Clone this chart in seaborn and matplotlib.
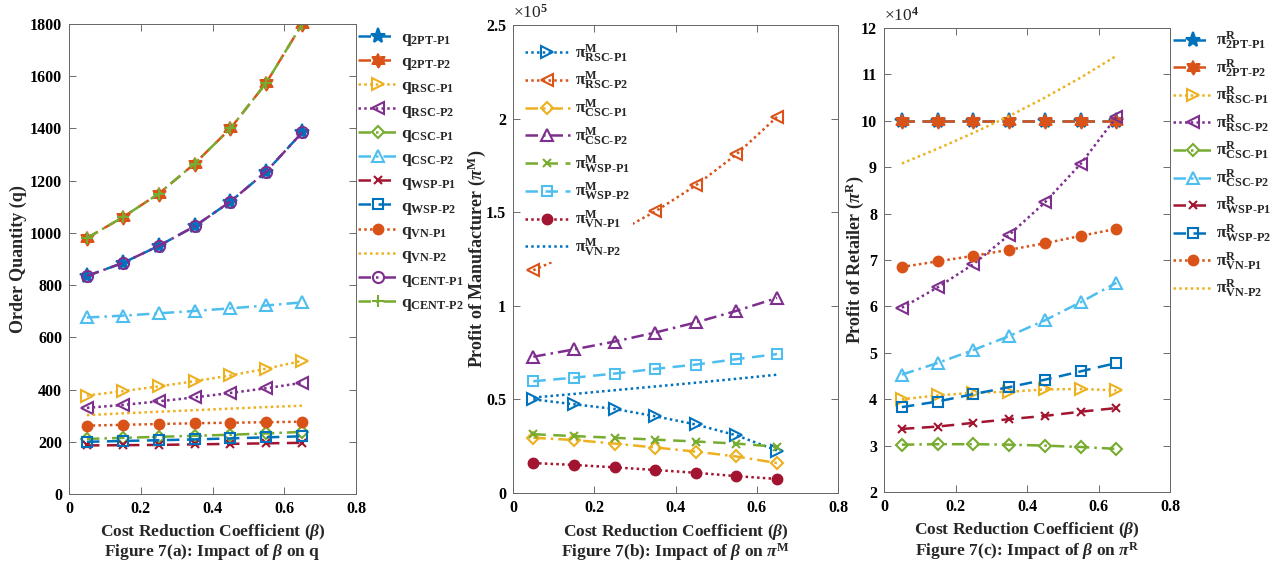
import numpy as np
import pandas as pd
import matplotlib
matplotlib.use("Agg")
import matplotlib.pyplot as plt
from matplotlib.ticker import FuncFormatter, MultipleLocator
import seaborn as sns

# ---------------- data ----------------
beta = [0.05, 0.15, 0.25, 0.35, 0.45, 0.55, 0.65]

# Figure 7(a): order quantity q
q_2pt_p1 = [835, 885, 950, 1025, 1120, 1235, 1385]
q_2pt_p2 = [980, 1060, 1150, 1265, 1400, 1575, 1800]
q_rsc_p1 = [377, 394, 412, 432, 454, 480, 510]
q_rsc_p2 = [330, 341, 355, 370, 387, 405, 426]
q_csc_p1 = [211, 215, 219, 223, 227, 232, 238]
q_csc_p2 = [676, 683, 692, 701, 711, 722, 734]
q_wsp_p1 = [186, 187, 188, 190, 192, 194, 196]
q_wsp_p2 = [200, 203, 206, 209, 213, 217, 221]
q_vn_p1 = [262, 265, 268, 271, 273, 275, 277]
q_vn_p2 = [302, 309, 315, 321, 327, 333, 338]
q_cent_p1 = [835, 885, 950, 1025, 1120, 1235, 1385]
q_cent_p2 = [980, 1060, 1150, 1265, 1400, 1575, 1800]

# Figure 7(b): manufacturer profit (x 10^5)
pm_rsc_p1 = [0.50, 0.474, 0.449, 0.41, 0.366, 0.308, 0.227]
pm_rsc_p2 = [1.19, 1.285, 1.385, 1.504, 1.643, 1.809, 2.009]
pm_csc_p1 = [0.295, 0.283, 0.264, 0.243, 0.221, 0.195, 0.16]
pm_csc_p2 = [0.728, 0.767, 0.809, 0.857, 0.911, 0.973, 1.042]
pm_wsp_p1 = [0.314, 0.304, 0.295, 0.285, 0.275, 0.264, 0.247]
pm_wsp_p2 = [0.597, 0.616, 0.638, 0.663, 0.686, 0.715, 0.742]
pm_vn_p1 = [0.16, 0.15, 0.137, 0.123, 0.108, 0.09, 0.075]
pm_vn_p2 = [0.51, 0.529, 0.549, 0.569, 0.589, 0.61, 0.632]

# Figure 7(c): retailer profit (x 10^4)
pr_2pt_p1 = [10.0, 10.0, 10.0, 10.0, 10.0, 10.0, 10.0]
pr_2pt_p2 = [10.0, 10.0, 10.0, 10.0, 10.0, 10.0, 10.0]
pr_rsc_p1 = [4.0, 4.08, 4.14, 4.16, 4.21, 4.22, 4.19]
pr_rsc_p2 = [5.97, 6.41, 6.91, 7.54, 8.24, 9.07, 10.08]
pr_csc_p1 = [3.02, 3.03, 3.03, 3.02, 3.0, 2.97, 2.93]
pr_csc_p2 = [4.53, 4.78, 5.06, 5.36, 5.70, 6.09, 6.51]
pr_wsp_p1 = [3.36, 3.41, 3.49, 3.57, 3.64, 3.73, 3.81]
pr_wsp_p2 = [3.83, 3.95, 4.11, 4.26, 4.42, 4.60, 4.78]
pr_vn_p1 = [6.85, 6.97, 7.09, 7.22, 7.36, 7.52, 7.67]
pr_vn_p2 = [9.08, 9.40, 9.74, 10.1, 10.5, 10.93, 11.4]

# ---------------- style ----------------
sns.set_theme(style="ticks")
plt.rcParams["font.family"] = ["Liberation Serif", "DejaVu Serif"]
plt.rcParams["font.weight"] = "bold"
plt.rcParams["axes.labelweight"] = "bold"
plt.rcParams["mathtext.fontset"] = "custom"
plt.rcParams["mathtext.rm"] = "Liberation Serif:bold"
plt.rcParams["mathtext.bf"] = "Liberation Serif:bold"
plt.rcParams["mathtext.it"] = "Liberation Serif:italic"

BLUE = "#0072BD"
ORANGE = "#D95319"
YELLOW = "#EDB120"
PURPLE = "#7E2F8E"
GREEN = "#77AC30"
CYAN = "#4DBEEE"
DRED = "#A2142F"

DASH = (0, (5, 3))
DOT = (0, (1, 1.3))
DASHDOT = (0, (5, 2, 1, 2))

# hexagram marker shape
ang = np.deg2rad(np.arange(12) * 30 + 90)
rad = np.where(np.arange(12) % 2 == 0, 1.0, 0.58)
HEX = list(zip(rad * np.cos(ang), rad * np.sin(ang)))

fig = plt.figure(figsize=(12.83, 5.63), dpi=100)
W, H = 1283, 563


def add_ax(l, r, t, b):
    return fig.add_axes([l / W, 1 - b / H, (r - l) / W, (b - t) / H])


def draw(ax, series):
    for lab, vals, col, ls, mk, fill, ms in series:
        kw = dict(color=col, linestyle=ls, linewidth=1.8, label=lab)
        if mk is not None:
            kw.update(marker=mk, markersize=ms, markeredgewidth=1.5,
                      markeredgecolor=col,
                      markerfacecolor=col if fill else "none")
        sns.lineplot(x=beta, y=vals, ax=ax, legend=False, **kw)


def style_ax(ax, ylim, ystep):
    ax.set_xlim(0, 0.8)
    ax.set_ylim(*ylim)
    ax.xaxis.set_major_locator(MultipleLocator(0.2))
    ax.yaxis.set_major_locator(MultipleLocator(ystep))
    fmt = FuncFormatter(lambda v, p: "%g" % round(v, 6))
    ax.xaxis.set_major_formatter(fmt)
    ax.yaxis.set_major_formatter(fmt)
    ax.tick_params(direction="in", top=True, right=True, length=5, width=0.6,
                   labelsize=11.5, pad=5, color="#555555", labelcolor="black")
    for s in ax.spines.values():
        s.set_visible(True)
        s.set_linewidth(0.7)
        s.set_color("#666666")
    for t in ax.get_xticklabels() + ax.get_yticklabels():
        t.set_fontweight("bold")


def sub(base, sup, subs):
    s = "$\\mathbf{%s}" % base
    if sup:
        s += "^{\\mathbf{%s}}" % sup
    s += "_{\\mathbf{%s}}$" % subs.replace("-", "\u2010")
    return s


XFS = 12.5
YFS = 13

# ---------------- panel (a) ----------------
axa = add_ax(69, 356, 24, 494)
series_a = [
    (sub("q", None, "2PT-P1"), q_2pt_p1, BLUE, DASH, "*", True, 11),
    (sub("q", None, "2PT-P2"), q_2pt_p2, ORANGE, DASH, HEX, True, 10),
    (sub("q", None, "RSC-P1"), q_rsc_p1, YELLOW, DOT, ">", False, 8),
    (sub("q", None, "RSC-P2"), q_rsc_p2, PURPLE, DOT, "<", False, 8),
    (sub("q", None, "CSC-P1"), q_csc_p1, GREEN, DASHDOT, "D", False, 6.5),
    (sub("q", None, "CSC-P2"), q_csc_p2, CYAN, DASHDOT, "^", False, 8),
    (sub("q", None, "WSP-P1"), q_wsp_p1, DRED, DASH, "x", False, 6),
    (sub("q", None, "WSP-P2"), q_wsp_p2, BLUE, DASH, "s", False, 6.5),
    (sub("q", None, "VN-P1"), q_vn_p1, ORANGE, DOT, "o", True, 7),
    (sub("q", None, "VN-P2"), q_vn_p2, YELLOW, DOT, None, False, 0),
    (sub("q", None, "CENT-P1"), q_cent_p1, PURPLE, DASHDOT, "o", False, 8),
    (sub("q", None, "CENT-P2"), q_cent_p2, GREEN, DASHDOT, "+", False, 8),
]
draw(axa, series_a)
style_ax(axa, (0, 1800), 200)
axa.set_ylabel("Order Quantity (q)", fontsize=YFS)
axa.yaxis.set_label_coords(-0.148, 0.5)
axa.set_xlabel("Cost Reduction Coefficient ($\\beta$)\nFigure 7(a): Impact of $\\beta$ on q",
               fontsize=XFS, linespacing=1.0, labelpad=4)
h, l = axa.get_legend_handles_labels()
axa.legend(h, l, loc="upper left", bbox_to_anchor=(358 / W, 1 - 30 / H),
           bbox_transform=fig.transFigure, frameon=False, fontsize=12.5,
           handlelength=2.3, handletextpad=0.2, labelspacing=0.34,
           borderpad=0, borderaxespad=0)

# ---------------- panel (b) ----------------
axb = add_ax(513, 838, 25, 493)
series_b = [
    (sub("\\pi", "M", "RSC-P1"), pm_rsc_p1, BLUE, DOT, ">", False, 8),
    (sub("\\pi", "M", "RSC-P2"), pm_rsc_p2, ORANGE, DOT, "<", False, 8),
    (sub("\\pi", "M", "CSC-P1"), pm_csc_p1, YELLOW, DASHDOT, "D", False, 6.5),
    (sub("\\pi", "M", "CSC-P2"), pm_csc_p2, PURPLE, DASHDOT, "^", False, 8),
    (sub("\\pi", "M", "WSP-P1"), pm_wsp_p1, GREEN, DASH, "x", False, 6),
    (sub("\\pi", "M", "WSP-P2"), pm_wsp_p2, CYAN, DASH, "s", False, 6.5),
    (sub("\\pi", "M", "VN-P1"), pm_vn_p1, DRED, DOT, "o", True, 7),
    (sub("\\pi", "M", "VN-P2"), pm_vn_p2, BLUE, DOT, None, False, 0),
]
draw(axb, series_b)
style_ax(axb, (0, 2.5), 0.5)
axb.set_ylabel("Profit of Manufacturer ($\\pi^{\\mathrm{M}}$)", fontsize=YFS)
axb.yaxis.set_label_coords(-0.077, 0.5)
axb.set_xlabel("Cost Reduction Coefficient ($\\beta$)\nFigure 7(b): Impact of $\\beta$ on $\\pi^{\\mathrm{M}}$",
               fontsize=XFS, linespacing=1.0, labelpad=4)
axb.text(0.0, 1.008, "\u00d710$^{5}$", transform=axb.transAxes, fontsize=12.5,
         fontweight="normal", ha="left", va="bottom")
h, l = axb.get_legend_handles_labels()
lg = axb.legend(h, l, loc="upper left", bbox_to_anchor=(0.025, 0.97),
                frameon=True, fontsize=12.5, handlelength=2.6, handletextpad=0.3,
                labelspacing=0.32, borderpad=0.2, borderaxespad=0, framealpha=1)
lg.get_frame().set_facecolor("white")
lg.get_frame().set_edgecolor("none")
lg.get_frame().set_boxstyle("square", pad=0.0)

# ---------------- panel (c) ----------------
axc = add_ax(884, 1170, 28, 492)
series_c = [
    (sub("\\pi", "R", "2PT-P1"), pr_2pt_p1, BLUE, DASH, "*", True, 11),
    (sub("\\pi", "R", "2PT-P2"), pr_2pt_p2, ORANGE, DASH, HEX, True, 10),
    (sub("\\pi", "R", "RSC-P1"), pr_rsc_p1, YELLOW, DOT, ">", False, 8),
    (sub("\\pi", "R", "RSC-P2"), pr_rsc_p2, PURPLE, DOT, "<", False, 8),
    (sub("\\pi", "R", "CSC-P1"), pr_csc_p1, GREEN, DASHDOT, "D", False, 6.5),
    (sub("\\pi", "R", "CSC-P2"), pr_csc_p2, CYAN, DASHDOT, "^", False, 8),
    (sub("\\pi", "R", "WSP-P1"), pr_wsp_p1, DRED, DASH, "x", False, 6),
    (sub("\\pi", "R", "WSP-P2"), pr_wsp_p2, BLUE, DASH, "s", False, 6.5),
    (sub("\\pi", "R", "VN-P1"), pr_vn_p1, ORANGE, DOT, "o", True, 7),
    (sub("\\pi", "R", "VN-P2"), pr_vn_p2, YELLOW, DOT, None, False, 0),
]
draw(axc, series_c)
style_ax(axc, (2, 12), 1)
axc.set_ylabel("Profit of Retailer ($\\pi^{\\mathrm{R}}$)", fontsize=YFS)
axc.yaxis.set_label_coords(-0.063, 0.5)
axc.set_xlabel("Cost Reduction Coefficient ($\\beta$)\nFigure 7(c): Impact of $\\beta$ on $\\pi^{\\mathrm{R}}$",
               fontsize=XFS, linespacing=1.0, labelpad=4)
axc.text(0.0, 1.008, "\u00d710$^{4}$", transform=axc.transAxes, fontsize=12.5,
         fontweight="normal", ha="left", va="bottom")
h, l = axc.get_legend_handles_labels()
axc.legend(h, l, loc="upper left", bbox_to_anchor=(1173 / W, 1 - 30 / H),
           bbox_transform=fig.transFigure, frameon=False, fontsize=12.5,
           handlelength=2.3, handletextpad=0.2, labelspacing=0.31,
           borderpad=0, borderaxespad=0)

fig.savefig("out.png", dpi=100, facecolor="white")
